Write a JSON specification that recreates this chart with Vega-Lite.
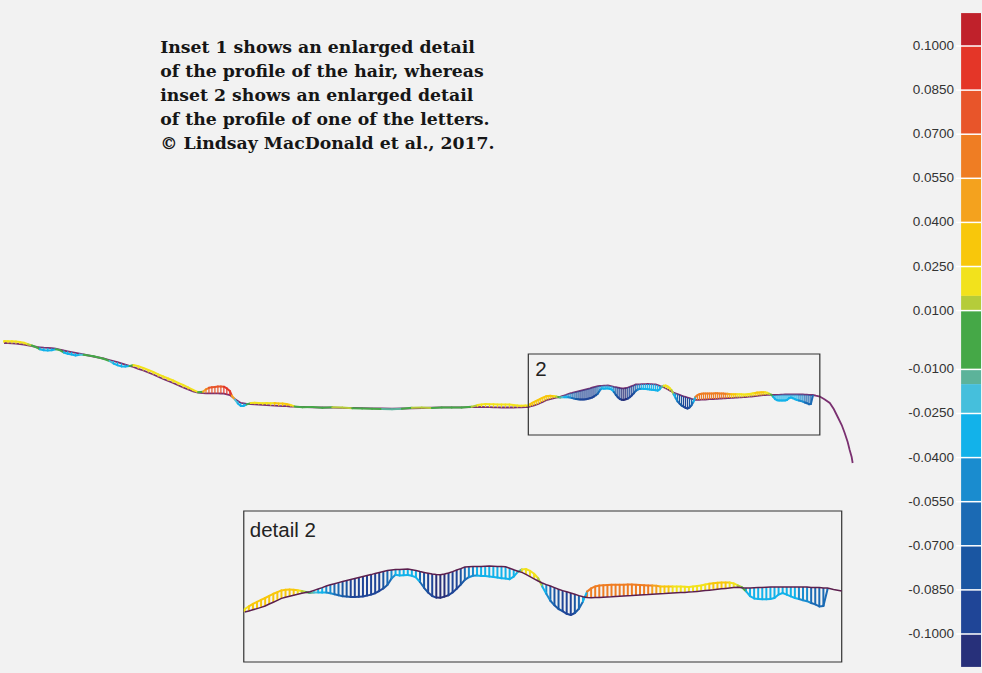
{
  "$schema": "https://vega.github.io/schema/vega-lite/v6.json",
  "width": 982,
  "height": 673,
  "autosize": {"type": "fit", "contains": "padding"},
  "padding": 0,
  "background": "#f2f2f2",
  "config": {"view": {"stroke": null}},
  "datasets": {
    "prof": [
      {"x":0,"y":343,"e":341,"d":0.02},{"x":4,"y":343.2,"e":341.2,"d":0.02},{"x":8,"y":343.4,"e":341.2,"d":0.02},{"x":12,"y":343.7,"e":341.5,"d":0.02},{"x":16,"y":344.1,"e":342.1,"d":0.02},{"x":20,"y":344.5,"e":342.7,"d":0.02},{"x":24,"y":345.3,"e":344.3,"d":0.013},{"x":28,"y":346,"e":345.5,"d":0},{"x":33,"y":347,"e":347.5,"d":0},
      {"x":36,"y":347.3,"e":349.3,"d":-0.03},{"x":40,"y":347.7,"e":350.2,"d":-0.03},{"x":44,"y":347.9,"e":350.4,"d":-0.03},{"x":48,"y":348.2,"e":350.2,"d":-0.03},{"x":52,"y":348.7,"e":349.2,"d":0},{"x":56,"y":349.6,"e":350.1,"d":0},
      {"x":60,"y":350.5,"e":352.5,"d":-0.03},{"x":64,"y":351.3,"e":353.8,"d":-0.03},{"x":68,"y":352.1,"e":354.6,"d":-0.03},{"x":72,"y":352.9,"e":355.4,"d":-0.03},{"x":76,"y":353.7,"e":354.7,"d":-0.02},{"x":80,"y":354.5,"e":354.8,"d":0},{"x":90,"y":356.5,"e":356.2,"d":0},{"x":100,"y":358.5,"e":358.8,"d":0},
      {"x":106,"y":360,"e":361,"d":-0.02},{"x":110,"y":361,"e":363.5,"d":-0.03},{"x":114,"y":362.2,"e":365.2,"d":-0.03},{"x":118,"y":363.4,"e":366.4,"d":-0.03},{"x":122,"y":364.6,"e":366.6,"d":-0.03},{"x":126,"y":365.8,"e":366.1,"d":0},
      {"x":130,"y":367,"e":365,"d":0.02},{"x":135,"y":368.8,"e":366.3,"d":0.02},{"x":140,"y":370.5,"e":368,"d":0.02},{"x":145,"y":372.5,"e":370,"d":0.02},{"x":150,"y":374.5,"e":372,"d":0.02},{"x":155,"y":376.8,"e":374.3,"d":0.02},{"x":160,"y":379,"e":376.5,"d":0.02},{"x":165,"y":381,"e":378.5,"d":0.02},{"x":170,"y":383,"e":380.5,"d":0.02},{"x":175,"y":385.3,"e":382.8,"d":0.02},{"x":180,"y":387.5,"e":385,"d":0.02},{"x":185,"y":389.4,"e":387.4,"d":0.02},{"x":190,"y":391.3,"e":389.8,"d":0.02},{"x":195,"y":392.5,"e":392.2,"d":0},
      {"x":200,"y":393.2,"e":391.7,"d":0.05},{"x":203,"y":393.3,"e":389.3,"d":0.06},{"x":206,"y":393.3,"e":387.8,"d":0.075},{"x":209,"y":393.3,"e":387.3,"d":0.075},{"x":212,"y":393.4,"e":386.9,"d":0.08},{"x":215,"y":393.4,"e":386.4,"d":0.08},{"x":218,"y":393.5,"e":386.5,"d":0.08},{"x":221,"y":393.7,"e":386.7,"d":0.09},{"x":224,"y":394.4,"e":388.4,"d":0.09},{"x":227,"y":395,"e":391,"d":0.09},{"x":229,"y":396.6,"e":395.6,"d":0.05},
      {"x":232,"y":399,"e":399.5,"d":-0.02},{"x":235,"y":401,"e":403.5,"d":-0.03},{"x":238,"y":403,"e":406,"d":-0.03},{"x":241,"y":403.4,"e":405.9,"d":-0.03},{"x":244,"y":403.9,"e":404.4,"d":0},
      {"x":248,"y":404.1,"e":403.1,"d":0.02},{"x":252,"y":404.3,"e":402.8,"d":0.02},{"x":256,"y":404.5,"e":403,"d":0.02},{"x":260,"y":404.8,"e":403.3,"d":0.02},{"x":264,"y":405.1,"e":403.1,"d":0.02},{"x":268,"y":405.4,"e":403.2,"d":0.02},{"x":272,"y":405.6,"e":403.1,"d":0.025},{"x":276,"y":405.9,"e":403.4,"d":0.03},{"x":280,"y":406.1,"e":403.6,"d":0.03},{"x":284,"y":406.2,"e":404,"d":0.025},{"x":288,"y":406.5,"e":405,"d":0.02},{"x":292,"y":406.7,"e":406.4,"d":0},
      {"x":300,"y":406.9,"e":407.2,"d":0},{"x":310,"y":407.3,"e":407,"d":0},{"x":320,"y":407.5,"e":407.8,"d":0},{"x":330,"y":407.7,"e":407.2,"d":0.013},{"x":340,"y":407.9,"e":407.4,"d":0.013},{"x":350,"y":408,"e":408.3,"d":0},{"x":360,"y":408.2,"e":408.5,"d":0},{"x":370,"y":408.3,"e":408.8,"d":0},{"x":380,"y":408.5,"e":409,"d":-0.012},{"x":390,"y":408.7,"e":409.2,"d":-0.012},{"x":400,"y":408.5,"e":408.8,"d":0},{"x":410,"y":408.3,"e":407.8,"d":0.013},{"x":420,"y":408,"e":407.5,"d":0.013},{"x":430,"y":407.7,"e":408,"d":0},{"x":440,"y":407.3,"e":407.6,"d":0},{"x":450,"y":407.3,"e":407.6,"d":0},{"x":460,"y":407.3,"e":407.6,"d":0},{"x":470,"y":407.2,"e":406.7,"d":0.013},
      {"x":476,"y":407.1,"e":405.1,"d":0.02},{"x":480,"y":407,"e":404.5,"d":0.02},{"x":484,"y":407.1,"e":404.1,"d":0.02},{"x":488,"y":407.2,"e":404.2,"d":0.02},{"x":492,"y":407.3,"e":404.3,"d":0.02},{"x":496,"y":407.4,"e":404.4,"d":0.02},{"x":500,"y":407.5,"e":404.5,"d":0.02},{"x":504,"y":407.5,"e":404.5,"d":0.02},{"x":508,"y":407.5,"e":404.5,"d":0.02},{"x":512,"y":407.5,"e":405,"d":0.02},{"x":516,"y":407.4,"e":405.4,"d":0.02},{"x":520,"y":407.3,"e":405.8,"d":0.02},{"x":524,"y":407.1,"e":405.6,"d":0.02},
      {"x":527,"y":407,"e":405.5,"d":0.02},{"x":529,"y":406.5,"e":404.2,"d":0.025},{"x":531,"y":405.9,"e":402.9,"d":0.03},{"x":533,"y":405.3,"e":401.9,"d":0.03},{"x":535,"y":404.7,"e":400.9,"d":0.03},{"x":537,"y":404,"e":400,"d":0.03},{"x":539,"y":403,"e":398.9,"d":0.03},{"x":541,"y":402.1,"e":397.9,"d":0.03},{"x":543,"y":401.2,"e":397.1,"d":0.03},{"x":545,"y":400.2,"e":396.2,"d":0.03},{"x":547,"y":399.6,"e":395.9,"d":0.03},{"x":549,"y":399.1,"e":395.8,"d":0.03},{"x":551,"y":398.6,"e":395.9,"d":0.025},{"x":553,"y":398.1,"e":396.1,"d":0.02},{"x":555,"y":397.6,"e":396.5,"d":0.013},{"x":557,"y":397.3,"e":397,"d":0},
      {"x":559,"y":396.9,"e":397.5,"d":-0.012},{"x":561,"y":396.2,"e":397.3,"d":-0.02},{"x":563,"y":395.5,"e":397.2,"d":-0.03},{"x":565,"y":394.8,"e":397.3,"d":-0.035},{"x":567,"y":394,"e":397.2,"d":-0.045},{"x":569,"y":393.4,"e":397.6,"d":-0.05},{"x":571,"y":392.9,"e":398.1,"d":-0.06},{"x":573,"y":392.3,"e":398.6,"d":-0.065},{"x":575,"y":391.8,"e":399.1,"d":-0.075},{"x":577,"y":391.3,"e":399.3,"d":-0.08},{"x":579,"y":390.8,"e":399.5,"d":-0.088},{"x":581,"y":390.3,"e":399.5,"d":-0.09},{"x":583,"y":389.8,"e":399.4,"d":-0.09},{"x":585,"y":389.3,"e":399.2,"d":-0.09},{"x":587,"y":388.8,"e":398.8,"d":-0.09},{"x":589,"y":388.3,"e":398.3,"d":-0.09},{"x":591,"y":387.7,"e":397.6,"d":-0.09},{"x":593,"y":387.2,"e":396.5,"d":-0.088},{"x":595,"y":386.7,"e":395.2,"d":-0.08},{"x":597,"y":386.2,"e":393.5,"d":-0.065},{"x":599,"y":386,"e":390.3,"d":-0.05},{"x":601,"y":385.8,"e":388.4,"d":-0.035},
      {"x":603,"y":385.7,"e":388.7,"d":-0.03},{"x":605,"y":385.6,"e":388.6,"d":-0.03},{"x":607,"y":385.5,"e":388.5,"d":-0.03},{"x":609,"y":385.9,"e":388.9,"d":-0.03},{"x":611,"y":386.3,"e":389.7,"d":-0.035},
      {"x":613,"y":386.8,"e":392,"d":-0.06},{"x":615,"y":387.2,"e":394.9,"d":-0.08},{"x":617,"y":387.6,"e":397.3,"d":-0.09},{"x":619,"y":388,"e":399,"d":-0.095},{"x":621,"y":388.3,"e":399.8,"d":-0.105},{"x":623,"y":388.4,"e":399.9,"d":-0.105},{"x":625,"y":388,"e":399.3,"d":-0.102},{"x":627,"y":387.5,"e":398.6,"d":-0.098},{"x":629,"y":386.8,"e":397.2,"d":-0.095},{"x":631,"y":386,"e":395.4,"d":-0.09},{"x":633,"y":385.3,"e":393.3,"d":-0.082},{"x":635,"y":384.5,"e":390.9,"d":-0.065},{"x":637,"y":384.4,"e":389.6,"d":-0.05},{"x":639,"y":384.3,"e":388.9,"d":-0.045},
      {"x":641,"y":384.2,"e":388.7,"d":-0.035},{"x":643,"y":384.2,"e":389,"d":-0.035},{"x":645,"y":384.1,"e":389,"d":-0.035},{"x":647,"y":384,"e":389.2,"d":-0.035},{"x":649,"y":384.1,"e":389.5,"d":-0.035},{"x":651,"y":384.2,"e":389.8,"d":-0.035},{"x":653,"y":384.3,"e":390.1,"d":-0.035},{"x":655,"y":384.4,"e":390.3,"d":-0.038},{"x":657,"y":385.1,"e":390.6,"d":-0.038},{"x":659,"y":385.9,"e":389.3,"d":-0.03},{"x":661,"y":386.6,"e":386.9,"d":-0.012},
      {"x":663,"y":387.2,"e":385.7,"d":0.02},{"x":665,"y":388.2,"e":385.5,"d":0.02},{"x":667,"y":389.3,"e":386.4,"d":0.02},{"x":669,"y":390.4,"e":387.9,"d":0.02},{"x":671,"y":391.5,"e":390.1,"d":0.013},
      {"x":673,"y":392.5,"e":394.2,"d":-0.035},{"x":675,"y":393.3,"e":397.9,"d":-0.05},{"x":677,"y":394,"e":401.4,"d":-0.07},{"x":679,"y":394.8,"e":403.6,"d":-0.08},{"x":681,"y":395.6,"e":405.5,"d":-0.085},{"x":683,"y":396.3,"e":406.6,"d":-0.09},{"x":685,"y":396.9,"e":407.9,"d":-0.095},{"x":687,"y":397.5,"e":408.5,"d":-0.095},{"x":689,"y":398.1,"e":407.5,"d":-0.085},{"x":691,"y":398.8,"e":405.4,"d":-0.065},{"x":693,"y":399.4,"e":401.7,"d":-0.04},
      {"x":695,"y":399.8,"e":396.8,"d":0.06},{"x":697,"y":399.9,"e":395.2,"d":0.062},{"x":699,"y":399.8,"e":394.2,"d":0.065},{"x":701,"y":399.7,"e":393.8,"d":0.065},{"x":703,"y":399.6,"e":393.6,"d":0.065},{"x":705,"y":399.5,"e":393.5,"d":0.065},{"x":707,"y":399.4,"e":393.4,"d":0.062},{"x":709,"y":399.2,"e":393.4,"d":0.062},{"x":711,"y":399.1,"e":393.4,"d":0.062},{"x":713,"y":399,"e":393.4,"d":0.06},{"x":715,"y":398.9,"e":393.3,"d":0.06},{"x":717,"y":398.8,"e":393.3,"d":0.06},{"x":719,"y":398.6,"e":393.4,"d":0.06},{"x":721,"y":398.5,"e":393.5,"d":0.058},{"x":723,"y":398.4,"e":393.6,"d":0.058},{"x":725,"y":398.3,"e":393.7,"d":0.056},{"x":727,"y":398.1,"e":393.8,"d":0.05},{"x":729,"y":398,"e":393.9,"d":0.045},{"x":731,"y":397.9,"e":394.2,"d":0.035},{"x":733,"y":397.8,"e":394.2,"d":0.03},{"x":735,"y":397.6,"e":394.3,"d":0.028},{"x":737,"y":397.5,"e":394.3,"d":0.022},{"x":739,"y":397.4,"e":394.3,"d":0.022},{"x":741,"y":397.3,"e":394.3,"d":0.02},{"x":743,"y":397.2,"e":394.4,"d":0.02},{"x":745,"y":397,"e":394.5,"d":0.02},{"x":747,"y":396.9,"e":394.3,"d":0.02},{"x":749,"y":396.7,"e":394,"d":0.02},{"x":751,"y":396.5,"e":393.7,"d":0.02},{"x":753,"y":396.3,"e":393.3,"d":0.022},{"x":755,"y":396.1,"e":392.9,"d":0.028},{"x":757,"y":395.9,"e":392.6,"d":0.028},{"x":759,"y":395.6,"e":392.4,"d":0.028},{"x":761,"y":395.4,"e":392.3,"d":0.028},{"x":763,"y":395.2,"e":392.3,"d":0.025},{"x":765,"y":395,"e":392.3,"d":0.022},{"x":767,"y":394.8,"e":392.7,"d":0.02},{"x":769,"y":394.6,"e":393.7,"d":0.013},{"x":771,"y":394.9,"e":394.6,"d":0},
      {"x":773,"y":395,"e":396.6,"d":-0.03},{"x":775,"y":395,"e":399.1,"d":-0.035},{"x":777,"y":394.9,"e":400.2,"d":-0.04},{"x":779,"y":394.8,"e":400.5,"d":-0.04},{"x":781,"y":394.7,"e":400.6,"d":-0.04},{"x":783,"y":394.6,"e":400.6,"d":-0.04},{"x":785,"y":394.5,"e":400.5,"d":-0.04},{"x":787,"y":394.5,"e":400,"d":-0.038},{"x":789,"y":394.5,"e":398.3,"d":-0.03},{"x":791,"y":394.5,"e":397.5,"d":-0.03},{"x":793,"y":394.5,"e":398.3,"d":-0.035},{"x":795,"y":394.5,"e":399.2,"d":-0.038},{"x":797,"y":394.5,"e":400,"d":-0.04},{"x":799,"y":394.5,"e":400.5,"d":-0.045},{"x":801,"y":394.5,"e":401.1,"d":-0.05},{"x":803,"y":394.5,"e":401.6,"d":-0.055},{"x":805,"y":394.7,"e":402.5,"d":-0.06},{"x":807,"y":394.7,"e":403.2,"d":-0.065},{"x":809,"y":394.8,"e":404.2,"d":-0.07},{"x":811,"y":395,"e":404,"d":-0.07},{"x":813,"y":395,"e":395.8,"d":-0.03},
      {"x":816,"y":395.7},{"x":820,"y":396.5},{"x":825,"y":399.5},{"x":830,"y":403},{"x":834,"y":409},{"x":838,"y":417},{"x":842,"y":425},{"x":845,"y":433},{"x":848,"y":442},{"x":850,"y":450},{"x":852,"y":457},{"x":853,"y":463}
    ],
    "boxes": [{"x":527,"x2":820,"y":354,"y2":435},{"x":241,"x2":842,"y":511,"y2":662}],
    "para": [
      {"x":157,"y":53,"t":"Inset 1 shows an enlarged detail"},
      {"x":157,"y":77,"t":"of the profile of the hair, whereas"},
      {"x":157,"y":101,"t":"inset 2 shows an enlarged detail"},
      {"x":157,"y":124.5,"t":"of the profile of one of the letters."},
      {"x":157,"y":148.5,"t":"© Lindsay MacDonald et al., 2017."}
    ],
    "labels": [{"x":534,"y":376,"t":"2"},{"x":247,"y":537,"t":"detail 2"}],
    "cb": [
      {"v0":0.1,"v1":0.1112,"d":0.105},{"v0":0.085,"v1":0.1,"d":0.09},{"v0":0.07,"v1":0.085,"d":0.08},{"v0":0.055,"v1":0.07,"d":0.06},{"v0":0.04,"v1":0.055,"d":0.05},{"v0":0.025,"v1":0.04,"d":0.03},{"v0":0.015,"v1":0.025,"d":0.02},{"v0":0.01,"v1":0.015,"d":0.012},{"v0":-0.01,"v1":0.01,"d":0},{"v0":-0.015,"v1":-0.01,"d":-0.012},{"v0":-0.025,"v1":-0.015,"d":-0.02},{"v0":-0.04,"v1":-0.025,"d":-0.03},{"v0":-0.055,"v1":-0.04,"d":-0.05},{"v0":-0.07,"v1":-0.055,"d":-0.06},{"v0":-0.085,"v1":-0.07,"d":-0.08},{"v0":-0.1,"v1":-0.085,"d":-0.09},{"v0":-0.1112,"v1":-0.1,"d":-0.105}
    ],
    "ticks": [
      {"t":0.1,"lab":"0.1000"},{"t":0.085,"lab":"0.0850"},{"t":0.07,"lab":"0.0700"},{"t":0.055,"lab":"0.0550"},{"t":0.04,"lab":"0.0400"},{"t":0.025,"lab":"0.0250"},{"t":0.01,"lab":"0.0100"},{"t":-0.01,"lab":"-0.0100"},{"t":-0.025,"lab":"-0.0250"},{"t":-0.04,"lab":"-0.0400"},{"t":-0.055,"lab":"-0.0550"},{"t":-0.07,"lab":"-0.0700"},{"t":-0.085,"lab":"-0.0850"},{"t":-0.1,"lab":"-0.1000"}
    ]
  },
  "layer": [
    {
      "data": {"name": "prof"},
      "layer": [
        {
          "mark": {"type": "line", "color": "#7a3070", "strokeWidth": 1.8},
          "encoding": {
            "x": {"field": "x", "type": "quantitative", "scale": {"domain": [0, 982], "nice": false, "zero": false}, "axis": null},
            "y": {"field": "y", "type": "quantitative", "scale": {"domain": [673, 0], "nice": false, "zero": false}, "axis": null}
          }
        },
        {
          "transform": [{"filter": "isValid(datum.e)"}],
          "mark": {"type": "rule", "strokeWidth": 1.2},
          "encoding": {
            "x": {"field": "x", "type": "quantitative"},
            "y": {"field": "y", "type": "quantitative"},
            "y2": {"field": "e"},
            "color": {"field": "d", "type": "quantitative", "legend": null, "scale": {"type": "threshold", "domain": [-0.1,-0.085,-0.07,-0.055,-0.04,-0.025,-0.015,-0.01,0.01,0.015,0.025,0.04,0.055,0.07,0.085,0.1], "range": ["#27307a","#1f4597","#1a56a2","#1b6ab4","#1a8ccf","#12b2ea","#45bfdc","#5cb39a","#45a847","#b5cc3a","#f2e21c","#f8c70b","#f4a21e","#ef7d23","#e8552a","#e43628","#c0212b"]}}
          }
        },
        {
          "transform": [
            {"filter": "isValid(datum.e)"},
            {"window": [{"op": "lead", "field": "x", "as": "xn"}, {"op": "lead", "field": "e", "as": "en"}], "sort": [{"field": "x", "order": "ascending"}]},
            {"filter": "isValid(datum.xn)"}
          ],
          "mark": {"type": "rule", "strokeWidth": 2, "strokeCap": "round"},
          "encoding": {
            "x": {"field": "x", "type": "quantitative"},
            "x2": {"field": "xn"},
            "y": {"field": "e", "type": "quantitative"},
            "y2": {"field": "en"},
            "color": {"field": "d", "type": "quantitative", "legend": null, "scale": {"type": "threshold", "domain": [-0.1,-0.085,-0.07,-0.055,-0.04,-0.025,-0.015,-0.01,0.01,0.015,0.025,0.04,0.055,0.07,0.085,0.1], "range": ["#27307a","#1f4597","#1a56a2","#1b6ab4","#1a8ccf","#12b2ea","#45bfdc","#5cb39a","#45a847","#b5cc3a","#f2e21c","#f8c70b","#f4a21e","#ef7d23","#e8552a","#e43628","#c0212b"]}}
          }
        },
        {
          "data": {"name": "boxes"},
          "mark": {"type": "rect", "fillOpacity": 0, "stroke": "#333333", "strokeWidth": 1.2},
          "encoding": {
            "x": {"field": "x", "type": "quantitative"},
            "x2": {"field": "x2"},
            "y": {"field": "y", "type": "quantitative"},
            "y2": {"field": "y2"}
          }
        },
        {
          "data": {"name": "para"},
          "mark": {"type": "text", "align": "left", "baseline": "alphabetic", "font": "DejaVu Serif", "fontWeight": "bold", "fontSize": 17.3, "color": "#161616"},
          "encoding": {
            "x": {"field": "x", "type": "quantitative"},
            "y": {"field": "y", "type": "quantitative"},
            "text": {"field": "t"}
          }
        },
        {
          "data": {"name": "labels"},
          "mark": {"type": "text", "align": "left", "baseline": "alphabetic", "font": "Liberation Sans", "fontSize": 20.5, "color": "#222222"},
          "encoding": {
            "x": {"field": "x", "type": "quantitative"},
            "y": {"field": "y", "type": "quantitative"},
            "text": {"field": "t"}
          }
        }
      ]
    },
    {
      "data": {"name": "prof"},
      "transform": [{"filter": "datum.x >= 526.5 && datum.x <= 820.5"}],
      "layer": [
        {
          "transform": [{"filter": "isValid(datum.e)"}],
          "mark": {"type": "rule", "strokeWidth": 2},
          "encoding": {
            "x": {"field": "x", "type": "quantitative", "scale": {"domain": [408.82, 888.36], "nice": false, "zero": false}, "axis": null},
            "y": {"field": "y", "type": "quantitative", "scale": {"domain": [437.5, 101], "nice": false, "zero": false}, "axis": null},
            "y2": {"field": "e"},
            "color": {"field": "d", "type": "quantitative", "legend": null, "scale": {"type": "threshold", "domain": [-0.1,-0.085,-0.07,-0.055,-0.04,-0.025,-0.015,-0.01,0.01,0.015,0.025,0.04,0.055,0.07,0.085,0.1], "range": ["#27307a","#1f4597","#1a56a2","#1b6ab4","#1a8ccf","#12b2ea","#45bfdc","#5cb39a","#45a847","#b5cc3a","#f2e21c","#f8c70b","#f4a21e","#ef7d23","#e8552a","#e43628","#c0212b"]}}
          }
        },
        {
          "transform": [
            {"filter": "isValid(datum.e)"},
            {"window": [{"op": "lead", "field": "x", "as": "xn"}, {"op": "lead", "field": "e", "as": "en"}], "sort": [{"field": "x", "order": "ascending"}]},
            {"filter": "isValid(datum.xn)"}
          ],
          "mark": {"type": "rule", "strokeWidth": 2, "strokeCap": "round"},
          "encoding": {
            "x": {"field": "x", "type": "quantitative"},
            "x2": {"field": "xn"},
            "y": {"field": "e", "type": "quantitative"},
            "y2": {"field": "en"},
            "color": {"field": "d", "type": "quantitative", "legend": null, "scale": {"type": "threshold", "domain": [-0.1,-0.085,-0.07,-0.055,-0.04,-0.025,-0.015,-0.01,0.01,0.015,0.025,0.04,0.055,0.07,0.085,0.1], "range": ["#27307a","#1f4597","#1a56a2","#1b6ab4","#1a8ccf","#12b2ea","#45bfdc","#5cb39a","#45a847","#b5cc3a","#f2e21c","#f8c70b","#f4a21e","#ef7d23","#e8552a","#e43628","#c0212b"]}}
          }
        },
        {
          "mark": {"type": "line", "color": "#5c1f4e", "strokeWidth": 1.5},
          "encoding": {
            "x": {"field": "x", "type": "quantitative"},
            "y": {"field": "y", "type": "quantitative"}
          }
        }
      ]
    },
    {
      "layer": [
        {
          "data": {"name": "cb"},
          "mark": {"type": "rect"},
          "encoding": {
            "x": {"datum": 962, "type": "quantitative", "scale": {"domain": [0, 982], "nice": false, "zero": false}, "axis": null},
            "x2": {"datum": 982},
            "y": {"field": "v0", "type": "quantitative", "scale": {"domain": [-0.11327, 0.11565], "nice": false, "zero": false}, "axis": null},
            "y2": {"field": "v1"},
            "color": {"field": "d", "type": "quantitative", "legend": null, "scale": {"type": "threshold", "domain": [-0.1,-0.085,-0.07,-0.055,-0.04,-0.025,-0.015,-0.01,0.01,0.015,0.025,0.04,0.055,0.07,0.085,0.1], "range": ["#27307a","#1f4597","#1a56a2","#1b6ab4","#1a8ccf","#12b2ea","#45bfdc","#5cb39a","#45a847","#b5cc3a","#f2e21c","#f8c70b","#f4a21e","#ef7d23","#e8552a","#e43628","#c0212b"]}}
          }
        },
        {
          "data": {"name": "ticks"},
          "mark": {"type": "rule", "color": "#ffffff", "strokeWidth": 1.5},
          "encoding": {
            "x": {"datum": 957, "type": "quantitative"},
            "x2": {"datum": 982},
            "y": {"field": "t", "type": "quantitative"}
          }
        },
        {
          "data": {"name": "ticks"},
          "mark": {"type": "text", "align": "right", "baseline": "middle", "font": "Liberation Sans", "fontSize": 13.5, "color": "#333333"},
          "encoding": {
            "x": {"datum": 955, "type": "quantitative"},
            "y": {"field": "t", "type": "quantitative"},
            "text": {"field": "lab"}
          }
        }
      ]
    }
  ],
  "resolve": {"scale": {"x": "independent", "y": "independent"}}
}
